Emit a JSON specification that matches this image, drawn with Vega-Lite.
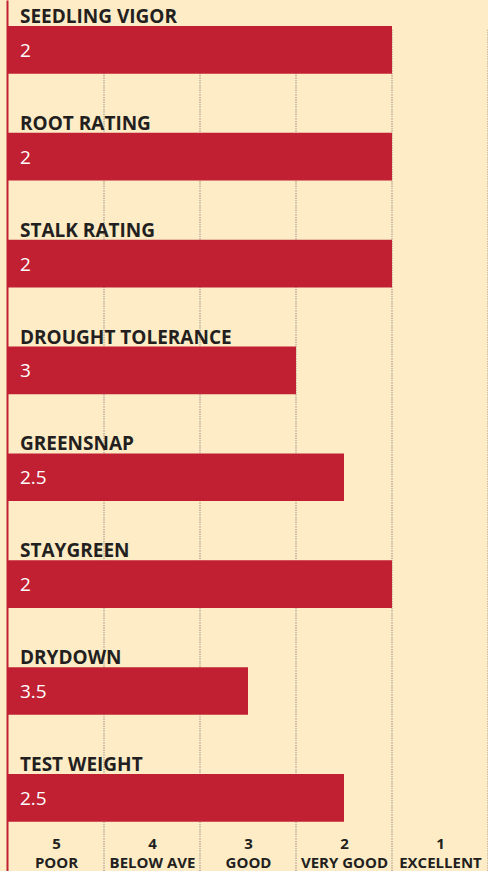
{
  "$schema": "https://vega.github.io/schema/vega-lite/v6.json",
  "width": 480,
  "height": 871,
  "autosize": "none",
  "padding": {"left": 8, "top": 0, "right": 0, "bottom": 0},
  "background": "#fdecc6",
  "config": {"view": {"stroke": null}, "font": "Open Sans"},
  "data": {"values": [
    {"trait": "SEEDLING VIGOR", "rating": 2},
    {"trait": "ROOT RATING", "rating": 2},
    {"trait": "STALK RATING", "rating": 2},
    {"trait": "DROUGHT TOLERANCE", "rating": 3},
    {"trait": "GREENSNAP", "rating": 2.5},
    {"trait": "STAYGREEN", "rating": 2},
    {"trait": "DRYDOWN", "rating": 3.5},
    {"trait": "TEST WEIGHT", "rating": 2.5}
  ]},
  "encoding": {
    "y": {
      "field": "trait", "type": "nominal",
      "scale": {
        "domain": ["SEEDLING VIGOR", "ROOT RATING", "STALK RATING", "DROUGHT TOLERANCE", "GREENSNAP", "STAYGREEN", "DRYDOWN", "TEST WEIGHT"],
        "paddingInner": 0.5536, "paddingOuter": 0.352, "align": 0.345
      },
      "axis": {"title": null, "labels": false, "ticks": false, "grid": false, "domain": true, "domainColor": "#c02032", "domainWidth": 2, "offset": 1}
    }
  },
  "layer": [
    {
      "data": {"values": [{"g": 5}, {"g": 4}, {"g": 3}, {"g": 2}, {"g": 1}]},
      "mark": {"type": "rule", "color": "#b3aa98", "strokeWidth": 1.6, "strokeDash": [1.2, 1.2]},
      "encoding": {
        "x": {"field": "g", "type": "quantitative", "scale": {"domain": [6, 1], "nice": false, "zero": false},
          "axis": {"orient": "bottom", "title": null, "values": [5.5, 4.5, 3.5, 2.5, 1.5], "domain": false, "ticks": false, "grid": false, "offset": -35, "labelPadding": 0, "labelBaseline": "top", "labelLineHeight": 19, "labelFont": "Open Sans", "labelFontWeight": "bold", "labelFontSize": 15, "labelColor": "#231f20", "labelFlush": false, "labelOverlap": false,
            "labelExpr": "[floor(datum.value) + '', datum.value > 5 ? 'POOR' : datum.value > 4 ? 'BELOW AVE' : datum.value > 3 ? 'GOOD' : datum.value > 2 ? 'VERY GOOD' : 'EXCELLENT']"}},
        "y": {"datum": "SEEDLING VIGOR", "bandPosition": 0.08},
        "y2": {"value": "height"}
      }
    },
    {
      "mark": {"type": "bar", "color": "#c02032"},
      "encoding": {
        "x": {"field": "rating", "type": "quantitative"},
        "x2": {"datum": 6}
      }
    },
    {
      "mark": {"type": "text", "align": "left", "baseline": "alphabetic", "dx": 12, "dy": -3, "font": "Open Sans", "fontWeight": "bold", "fontSize": 19, "color": "#231f20"},
      "encoding": {
        "x": {"datum": 6, "type": "quantitative"},
        "y": {"field": "trait", "type": "nominal", "bandPosition": 0},
        "text": {"field": "trait", "type": "nominal"}
      }
    },
    {
      "mark": {"type": "text", "align": "left", "baseline": "middle", "dx": 12, "dy": 1, "font": "Open Sans", "fontSize": 19, "color": "#ffffff"},
      "encoding": {
        "x": {"datum": 6, "type": "quantitative"},
        "text": {"field": "rating", "type": "nominal"}
      }
    }
  ]
}
